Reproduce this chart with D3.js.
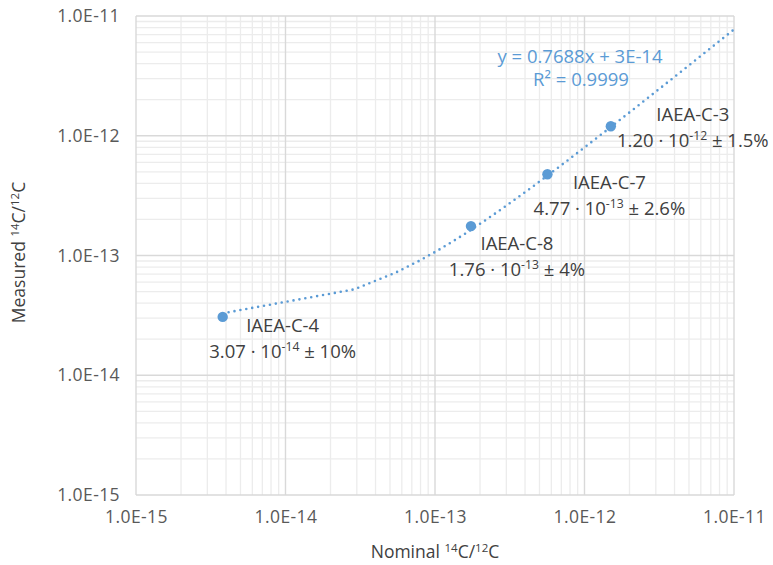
<!DOCTYPE html>
<html>
<head>
<meta charset="utf-8">
<script src="https://cdn.jsdelivr.net/npm/d3@7"></script>
<style>
  html, body { margin: 0; padding: 0; background: #fff; }
  svg { display: block; font-family: "Open Sans", sans-serif; }
</style>
</head>
<body>
<svg id="chart" width="773" height="565"></svg>
<script>
// ---- data ----
const sampleNames = ["IAEA-C-4", "IAEA-C-8", "IAEA-C-7", "IAEA-C-3"];
const nominal = [3.8e-15, 1.74e-13, 5.65e-13, 1.5e-12];
const measured = [3.07e-14, 1.76e-13, 4.77e-13, 1.20e-12];
const mantissa = ["3.07", "1.76", "4.77", "1.20"];
const exponent = ["-14", "-13", "-13", "-12"];
const uncertainty = ["10%", "4%", "2.6%", "1.5%"];
const fitSlope = 0.7688;
const fitIntercept = 3e-14;
const fitR2 = "0.9999";
const tickValues = [1e-15, 1e-14, 1e-13, 1e-12, 1e-11];
const tickLabels = ["1.0E-15", "1.0E-14", "1.0E-13", "1.0E-12", "1.0E-11"];

// ---- layout ----
const labelOffsets = [[60, 9], [46, 17], [62, 8], [82, -12]];
const svg = d3.select("#chart");
const L = 136, R = 734, T = 16, B = 495;
const x = d3.scaleLog().domain([1e-15, 1e-11]).range([L, R]);
const y = d3.scaleLog().domain([1e-15, 1e-11]).range([B, T]);
const blue = "#5B9BD5";
const textCol = "#404040";

// minor gridlines
const minor = [];
for (let e = -15; e < -11; e++) for (let m = 2; m <= 9; m++) minor.push(m * Math.pow(10, e));
const g = svg.append("g");
g.selectAll("line.mx").data(minor).join("line")
  .attr("x1", d => x(d)).attr("x2", d => x(d)).attr("y1", T).attr("y2", B)
  .attr("stroke", "#ececec").attr("stroke-width", 1.3);
g.selectAll("line.my").data(minor).join("line")
  .attr("y1", d => y(d)).attr("y2", d => y(d)).attr("x1", L).attr("x2", R)
  .attr("stroke", "#ececec").attr("stroke-width", 1.3);
// major gridlines
g.selectAll("line.Mx").data(tickValues).join("line")
  .attr("x1", d => x(d)).attr("x2", d => x(d)).attr("y1", T).attr("y2", B)
  .attr("stroke", "#d9d9d9").attr("stroke-width", 1.4);
g.selectAll("line.My").data(tickValues).join("line")
  .attr("y1", d => y(d)).attr("y2", d => y(d)).attr("x1", L).attr("x2", R)
  .attr("stroke", "#d9d9d9").attr("stroke-width", 1.4);

// axes (labels only)
const xAxis = d3.axisBottom(x).tickValues(tickValues).tickFormat((d, i) => tickLabels[i]).tickSize(0).tickPadding(0);
const yAxis = d3.axisLeft(y).tickValues(tickValues).tickFormat((d, i) => tickLabels[i]).tickSize(0).tickPadding(0);
const gx = svg.append("g").attr("transform", `translate(0,${B + 16})`).call(xAxis);
const gy = svg.append("g").attr("transform", `translate(${L - 16},0)`).call(yAxis);
[gx, gy].forEach(a => {
  a.select(".domain").remove();
  a.selectAll("text").attr("fill", "#595959").attr("font-size", 17.5)
    .attr("letter-spacing", 0.4).attr("font-family", "Open Sans, sans-serif");
});

// trendline (Excel style: sampled linearly in x)
const x0 = nominal[0], x1 = 1e-11, steps = 400;
const trend = d3.range(steps + 1).map(k => {
  const xv = x0 + (x1 - x0) * k / steps;
  return [xv, fitSlope * xv + fitIntercept];
});
svg.append("path")
  .attr("d", d3.line().x(d => x(d[0])).y(d => y(d[1]))(trend))
  .attr("fill", "none").attr("stroke", blue).attr("stroke-width", 2.6)
  .attr("stroke-linecap", "round").attr("stroke-dasharray", "0 6");

// points
svg.selectAll("circle.pt").data(nominal).join("circle")
  .attr("cx", d => x(d)).attr("cy", (d, i) => y(measured[i])).attr("r", 5.2)
  .attr("fill", blue);

// labels
const fs = 18.5;
nominal.forEach((d, i) => {
  const px = x(d) + labelOffsets[i][0], py = y(measured[i]) + labelOffsets[i][1];
  svg.append("text").attr("x", px).attr("y", py).attr("dy", "0.35em")
    .attr("text-anchor", "middle").attr("font-size", fs).attr("fill", textCol)
    .text(sampleNames[i]);
  const t = svg.append("text").attr("x", px).attr("y", py + 26).attr("dy", "0.35em")
    .attr("text-anchor", "middle").attr("font-size", fs).attr("fill", textCol);
  t.append("tspan").text(mantissa[i] + " · 10");
  t.append("tspan").attr("font-size", fs * 0.66).attr("dy", -7).text(exponent[i]);
  t.append("tspan").attr("dy", 7).text(" ± " + uncertainty[i]);
});

// equation
svg.append("text").attr("x", 580).attr("y", 57).attr("dy", "0.35em")
  .attr("text-anchor", "middle").attr("font-size", fs).attr("fill", blue)
  .text(`y = ${fitSlope}x + 3E-14`);
const r2 = svg.append("text").attr("x", 581).attr("y", 80).attr("dy", "0.35em")
  .attr("text-anchor", "middle").attr("font-size", fs).attr("fill", blue);
r2.append("tspan").text("R² = " + fitR2);

// axis titles
function title(sel, pre) {
  sel.append("tspan").text(pre + " ");
  sel.append("tspan").attr("font-size", 11.5).attr("dy", -6).text("14");
  sel.append("tspan").attr("dy", 6).text("C/");
  sel.append("tspan").attr("font-size", 11.5).attr("dy", -6).text("12");
  sel.append("tspan").attr("dy", 6).text("C");
}
const xt = svg.append("text").attr("x", (L + R) / 2).attr("y", 552).attr("dy", "0.35em")
  .attr("text-anchor", "middle").attr("font-size", 17.5).attr("fill", textCol);
title(xt, "Nominal");
const yt = svg.append("text").attr("transform", `translate(19,${(T + B) / 2 - 3}) rotate(-90)`)
  .attr("dy", "0.35em").attr("text-anchor", "middle").attr("font-size", 17.5).attr("fill", textCol);
title(yt, "Measured");
</script>
</body>
</html>
